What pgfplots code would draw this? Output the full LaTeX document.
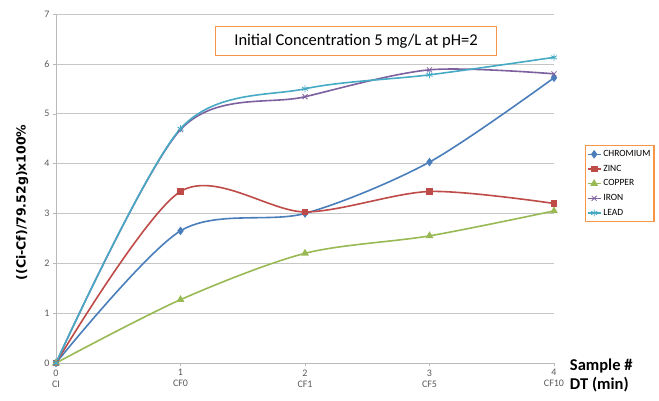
\documentclass[border=0pt]{standalone}
\usepackage{pgfplots}
\pgfplotsset{compat=1.18}
\usepackage{fontspec}
\setmainfont{Carlito}
\newfontfamily\labfont{DejaVu Sans}
\definecolor{cCr}{HTML}{4A7EBB}
\definecolor{cZn}{HTML}{BE4B48}
\definecolor{cCu}{HTML}{98B954}
\definecolor{cFe}{HTML}{7D60A0}
\definecolor{cPb}{HTML}{46AAC5}
\definecolor{boxor}{HTML}{F79646}
\begin{document}
\begin{tikzpicture}
\begin{axis}[
    at={(0,0)}, anchor=south west,
    scale only axis,
    width=498pt, height=349pt,
    xmin=0, xmax=4, ymin=0, ymax=7,
    xtick={0,1,2,3,4},
    xticklabels={{0\\CI},{1\\CF0},{2\\CF1},{3\\CF5},{4\\CF10}},
    ytick={0,1,...,7},
    x tick label style={align=center, font=\fontsize{10}{11}\selectfont, text=black!65},
    y tick label style={font=\fontsize{10}{11}\selectfont, text=black!65},
    /pgf/number format/assume math mode=true,
    axis x line=bottom, axis y line=left,
    axis line style={gray!55, line width=0.8pt, -},
    tick style={gray!55},
    tick align=outside,
    major tick length=3pt,
    ymajorgrids=true,
    grid style={gray!45, line width=0.6pt},
    ylabel={((Ci-Cf)/79.52g)x100\%},
    ylabel style={at={(axis description cs:-0.068,0.46)}, anchor=center,
        font=\fontsize{12.5}{14}\labfont\bfseries},
    clip=false,
    every axis plot/.append style={smooth, line width=1.6pt},
    legend style={at={(rel axis cs:1.062,0.625)}, anchor=north west,
        draw=boxor, line width=1.2pt, font=\fontsize{9.5}{11}\selectfont,
        inner xsep=1.5pt, inner ysep=3pt, row sep=3pt, cells={anchor=west},
        legend image post style={line width=1.6pt}},
    legend image code/.code={\draw[#1] (0cm,0cm) -- (0.45cm,0cm);
        \draw[#1, only marks] plot coordinates {(0.225cm,0cm)};},
]
\addplot[cCr, mark=diamond*, mark size=3pt] coordinates {
    (0,0)(1,2.65)(2,3.0)(3,4.03)(4,5.72)};
\addlegendentry{CHROMIUM}
\addplot[cZn, mark=square*, mark size=2.6pt] coordinates {
    (0,0)(1,3.44)(2,3.03)(3,3.44)(4,3.2)};
\addlegendentry{ZINC}
\addplot[cCu, mark=triangle*, mark size=3pt] coordinates {
    (0,0)(1,1.27)(2,2.2)(3,2.55)(4,3.05)};
\addlegendentry{COPPER}
\addplot[cFe, mark=x, mark size=3.5pt, mark options={line width=0.8pt}] coordinates {
    (0,0)(1,4.68)(2,5.34)(3,5.88)(4,5.8)};
\addlegendentry{IRON}
\addplot[cPb, mark=asterisk, mark size=3.5pt, mark options={line width=0.8pt}] coordinates {
    (0,0)(1,4.7)(2,5.5)(3,5.78)(4,6.13)};
\addlegendentry{LEAD}
\node[draw=boxor, line width=1.6pt, fill=white, minimum width=281pt, minimum height=29pt,
    font=\fontsize{16.5}{18}\selectfont] at (axis cs:2.41,6.46) {Initial Concentration 5 mg/L at pH=2};
\node[anchor=west, font=\fontsize{16.5}{18}\selectfont\bfseries] at (axis cs:4.10,-0.06) {Sample \#};
\node[anchor=west, font=\fontsize{16.5}{18}\selectfont\bfseries] at (axis cs:4.10,-0.44) {DT (min)};
\end{axis}
\pgfresetboundingbox
\path[use as bounding box] (-56pt,-38pt) rectangle (603pt,363pt);
\end{tikzpicture}
\end{document}
